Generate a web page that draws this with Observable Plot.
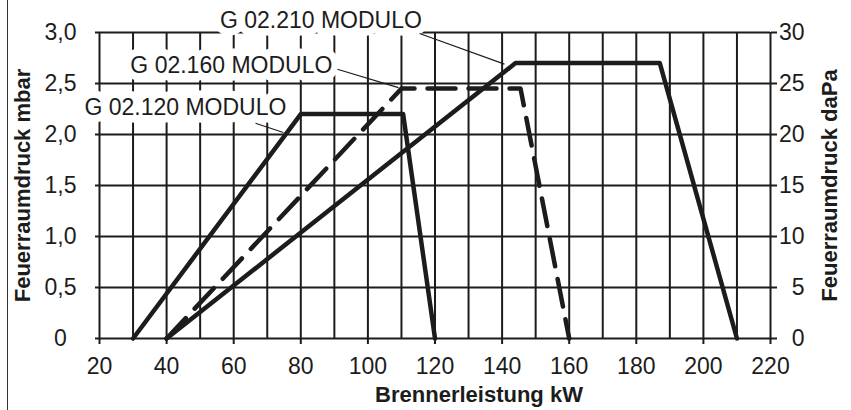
<!DOCTYPE html>
<html>
<head>
<meta charset="utf-8">
<script src="https://cdn.jsdelivr.net/npm/d3@7"></script>
<script src="https://cdn.jsdelivr.net/npm/@observablehq/plot@0.6"></script>
<style>
  html, body { margin: 0; padding: 0; background: #fff; }
  #wrap { position: relative; width: 851px; height: 410px; }
  #edge { position: absolute; left: 7px; top: 0; height: 410px; border-left: 1.5px solid #333; }
  g[aria-label="modlabel"] text { letter-spacing: 0.2px; }
</style>
</head>
<body>
<div id="wrap"><div id="edge"></div></div>
<script>
// ---- data ----
const s120X = [30, 80, 110.5, 120];
const s120Y = [0, 2.2, 2.2, 0];
const s160X = [40, 110, 145.5, 160];
const s160Y = [0, 2.45, 2.45, 0];
const s210X = [40, 144, 187, 210];
const s210Y = [0, 2.7, 2.7, 0];

const labelNames = ["G 02.210 MODULO", "G 02.160 MODULO", "G 02.120 MODULO"];
const labelX = [86.0, 59.3, 45.6];
const labelY = [3.12, 2.68, 2.26];
const leaderX1 = [115.4, 90.9, 66.5];
const leaderY1 = [2.99, 2.64, 2.11];
const leaderX2 = [140.7, 109.1, 74.8];
const leaderY2 = [2.69, 2.46, 2.02];

const bottomTicks = [20, 40, 60, 80, 100, 120, 140, 160, 180, 200, 220];
const gridXValues = [20, 30, 40, 50, 60, 70, 80, 90, 100, 110, 120, 130, 140, 150, 160, 170, 180, 190, 200, 210, 220];
const leftTicks = [0, 0.5, 1.0, 1.5, 2.0, 2.5, 3.0];
const leftTickLabels = ["0", "0,5", "1,0", "1,5", "2,0", "2,5", "3,0"];
const rightTickLabels = ["0", "5", "10", "15", "20", "25", "30"];

const xTitle = "Brennerleistung kW";
const yTitleLeft = "Feuerraumdruck mbar";
const yTitleRight = "Feuerraumdruck daPa";

// ---- build tables ----
const toPts = (xs, ys) => xs.map((x, i) => ({x, y: ys[i]}));
const solid = [
  ...toPts(s120X, s120Y).map(d => ({...d, s: "120"})),
  ...toPts(s210X, s210Y).map(d => ({...d, s: "210"}))
];
const dashed = toPts(s160X, s160Y);
const labels = labelNames.map((t, i) => ({t, x: labelX[i], y: labelY[i]}));
const leaders = leaderX1.map((x1, i) => ({x1, y1: leaderY1[i], x2: leaderX2[i], y2: leaderY2[i]}));

const ink = "#1c1c1c";
const font = "'Liberation Sans', Arial, Helvetica, sans-serif";

const chart = Plot.plot({
  width: 851,
  height: 410,
  marginLeft: 99,
  marginRight: 81,
  marginTop: 32,
  marginBottom: 72,
  style: {fontFamily: font, fontSize: "22px", color: ink, background: "transparent"},
  x: {domain: [20, 220]},
  y: {domain: [0, 3.0]},
  marks: [
    Plot.gridX(gridXValues, {stroke: ink, strokeOpacity: 1, strokeWidth: 2}),
    Plot.gridY(leftTicks, {stroke: ink, strokeOpacity: 1, strokeWidth: 2}),
    Plot.axisX(bottomTicks, {tickSize: 6, tickPadding: 13, stroke: ink, strokeWidth: 2, fontSize: 23, fill: ink, label: null}),
    Plot.axisY(leftTicks, {anchor: "left", tickSize: 4, tickPadding: 35, textAnchor: "middle", tickFormat: (d, i) => leftTickLabels[i], stroke: ink, strokeWidth: 2, fontSize: 23, fill: ink, label: null}),
    Plot.axisY(leftTicks, {anchor: "right", tickSize: 6, tickPadding: 28, textAnchor: "end", tickFormat: (d, i) => rightTickLabels[i], stroke: ink, strokeWidth: 2, fontSize: 23, fill: ink, label: null}),
    Plot.text(labels, {x: "x", y: "y", text: "t", fill: ink, stroke: "white", strokeWidth: 15, strokeLinejoin: "round", paintOrder: "stroke", fontSize: 23, textAnchor: "middle", lineAnchor: "middle", ariaLabel: "modlabel"}),
    Plot.line(solid, {x: "x", y: "y", z: "s", stroke: ink, strokeWidth: 4.5, strokeLinejoin: "round"}),
    Plot.line(dashed, {x: "x", y: "y", stroke: ink, strokeWidth: 4.5, strokeLinejoin: "round", strokeDasharray: "28,13"}),
    Plot.link(leaders, {x1: "x1", y1: "y1", x2: "x2", y2: "y2", stroke: ink, strokeWidth: 1.2}),
    Plot.text([xTitle], {frameAnchor: "bottom", dx: 44, dy: 56, fontWeight: "bold", fontSize: 22, fill: ink, textAnchor: "middle", lineAnchor: "middle"}),
    Plot.text([yTitleLeft], {frameAnchor: "left", dx: -77, rotate: -90, fontWeight: "bold", fontSize: 22, fill: ink, textAnchor: "middle", lineAnchor: "middle"}),
    Plot.text([yTitleRight], {frameAnchor: "right", dx: 59, rotate: -90, fontWeight: "bold", fontSize: 22, fill: ink, textAnchor: "middle", lineAnchor: "middle"})
  ]
});
document.getElementById("wrap").appendChild(chart);
</script>
</body>
</html>
